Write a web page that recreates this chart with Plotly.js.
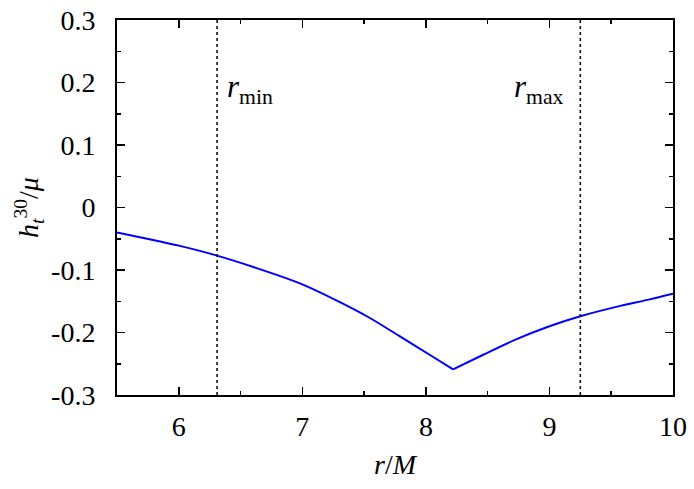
<!DOCTYPE html>
<html>
<head>
<meta charset="utf-8">
<script src="https://cdn.plot.ly/plotly-3.0.1.min.js"></script>
<style>html,body{margin:0;padding:0;background:#fff;}</style>
</head>
<body>
<div id="chart" style="width:694px;height:489px;"></div>
<script>
// Data (two branches meeting at the cusp)
const leftR  = [5.5, 5.84, 6.0, 6.31, 6.81, 7.0, 7.3, 7.54, 7.78, 8.05, 8.22];
const leftH  = [-0.040, -0.054, -0.061, -0.077, -0.109, -0.123, -0.151, -0.176, -0.205, -0.238, -0.259];
const rightR = [8.22, 8.46, 8.73, 9.0, 9.25, 9.54, 9.81, 10.0];
const rightH = [-0.259, -0.236, -0.211, -0.190, -0.174, -0.159, -0.147, -0.138];
const rMin = 6.31;
const rMax = 9.25;
const xTickVals = [6, 7, 8, 9, 10];
const xTickText = ["6", "7", "8", "9", "10"];
const yTickVals = [0.3, 0.2, 0.1, 0, -0.1, -0.2, -0.3];
const yTickText = ["0.3", "0.2", "0.1", "0", "-0.1", "-0.2", "-0.3"];

const font = {family: "Liberation Serif, DejaVu Serif, serif", size: 28, color: "#000"};
const annFont = {family: "Liberation Serif, DejaVu Serif, serif", size: 31, color: "#000"};

const traces = [
  {x: leftR, y: leftH, mode: "lines", type: "scatter",
   line: {color: "#0000ff", width: 2, shape: "spline", smoothing: 0.8}, hoverinfo: "skip"},
  {x: rightR, y: rightH, mode: "lines", type: "scatter",
   line: {color: "#0000ff", width: 2, shape: "spline", smoothing: 0.8}, hoverinfo: "skip"}
];

const axisCommon = {
  showline: true, linecolor: "#000", linewidth: 2, mirror: "ticks",
  ticks: "inside", ticklen: 8, tickwidth: 1.5, tickcolor: "#000",
  showgrid: false, zeroline: false, tickfont: font
};

const layout = {
  width: 694, height: 489,
  margin: {l: 117, r: 21, t: 20, b: 94},
  paper_bgcolor: "#fff", plot_bgcolor: "#fff",
  showlegend: false,
  font: font,
  xaxis: Object.assign({}, axisCommon, {
    range: [5.5, 10], tickvals: xTickVals, ticktext: xTickText, ticklabelstandoff: 5,
    minor: {dtick: 0.5, ticks: "inside", ticklen: 4, tickwidth: 1.5, tickcolor: "#000", showgrid: false},
    title: {text: "<i>r</i>/<i>M</i>", font: font, standoff: 14}
  }),
  yaxis: Object.assign({}, axisCommon, {
    range: [-0.3, 0.3], tickvals: yTickVals, ticktext: yTickText, ticklabelstandoff: 14,
    minor: {dtick: 0.05, ticks: "inside", ticklen: 4, tickwidth: 1.5, tickcolor: "#000", showgrid: false},
    title: {text: "<i>h</i><sub><i>t</i></sub><sup>30</sup>/<i>μ</i>", font: font, standoff: 4}
  }),
  shapes: [
    {type: "line", xref: "x", yref: "paper", x0: rMin, x1: rMin, y0: 0, y1: 1, line: {color: "#000", width: 1.5, dash: "dot"}},
    {type: "line", xref: "x", yref: "paper", x0: rMax, x1: rMax, y0: 0, y1: 1, line: {color: "#000", width: 1.5, dash: "dot"}}
  ],
  annotations: [
    {x: rMin, y: 0.19, xref: "x", yref: "y", xanchor: "left", xshift: 8, text: "<i>r</i><sub>min</sub>", showarrow: false, font: annFont},
    {x: rMax, y: 0.19, xref: "x", yref: "y", xanchor: "right", xshift: -14, text: "<i>r</i><sub>max</sub>", showarrow: false, font: annFont}
  ]
};

Plotly.newPlot("chart", traces, layout, {staticPlot: true, displayModeBar: false});
</script>
</body>
</html>
